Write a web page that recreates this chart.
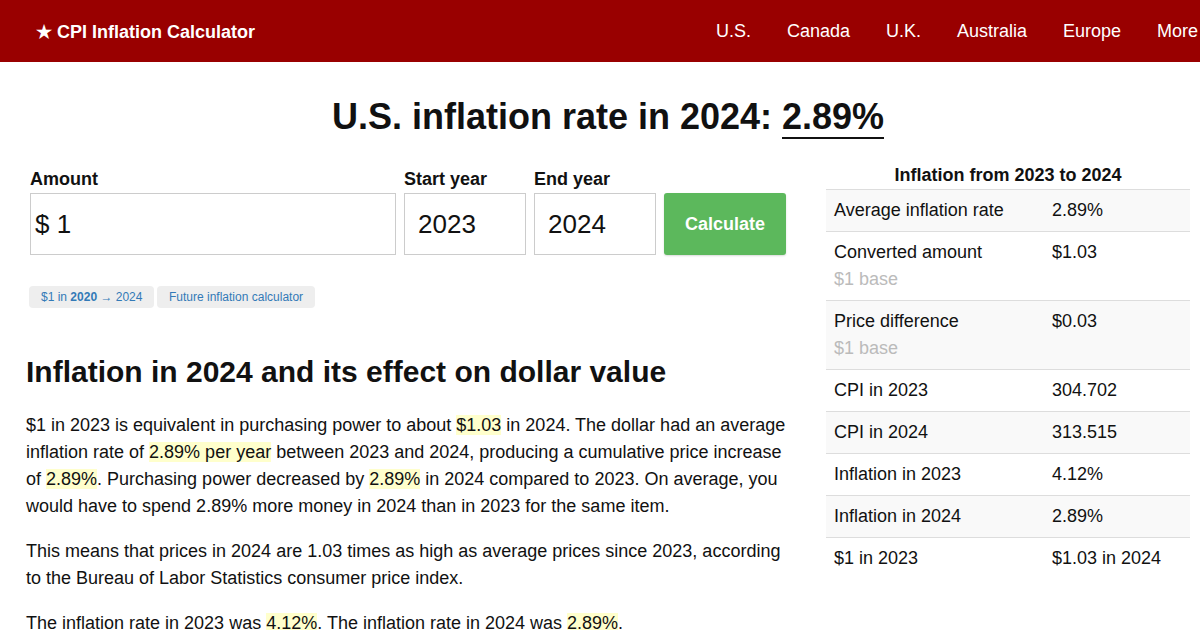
<!DOCTYPE html>
<html>
<head>
<meta charset="utf-8">
<script src="https://cdn.jsdelivr.net/npm/chart.js@4"></script>
<style>
  body { margin: 0; width: 1200px; height: 630px; overflow: hidden; background: #fff; font-family: "Liberation Sans", Arial, sans-serif; color: #111; }
  .topbar { position: absolute; left: 0; top: 0; width: 1200px; height: 62px; background: #990000; color: #fff; }
  .brand { position: absolute; left: 36px; top: 21px; font-size: 18px; font-weight: bold; }
  .nav a { position: absolute; top: 21px; font-size: 18px; color: #fff; text-decoration: none; white-space: nowrap; }
  h1 { position: absolute; left: 0; top: 96px; width: 1216px; margin: 0; text-align: center; font-size: 36px; font-weight: bold; }
  h1 span { border-bottom: 2px solid #111; }
  .lbl { position: absolute; top: 169px; font-size: 18px; font-weight: bold; }
  .box { position: absolute; top: 193px; height: 60px; border: 1px solid #ccc; font-size: 26px; line-height: 60px; box-sizing: content-box; }
  .btn { position: absolute; left: 664px; top: 193px; width: 122px; height: 62px; background: #5cb85c; border-radius: 3px; color: #fff; font-weight: bold; font-size: 18px; line-height: 62px; text-align: center; box-shadow: 0 1px 2px rgba(0,0,0,0.15); }
  .tag { position: absolute; top: 286px; height: 22px; line-height: 22px; background: #eee; border-radius: 4px; font-size: 12px; color: #337ab7; padding: 0 12px; white-space: nowrap; }
  h2 { position: absolute; left: 26px; top: 355px; margin: 0; font-size: 30px; font-weight: bold; }
  .txt { position: absolute; left: 26px; width: 768px; margin: 0; font-size: 18px; line-height: 27px; }
  mark { background: #ffffcc; color: inherit; }
  .side { position: absolute; left: 826px; top: 162px; width: 364px; }
  .side .cap { text-align: center; font-size: 18px; font-weight: bold; height: 27px; line-height: 26px; }
  table { border-collapse: collapse; width: 364px; font-size: 18px; }
  td { border-top: 1px solid #ddd; padding: 10px 8px; vertical-align: top; line-height: 21px; }
  td.v { width: 130px; }
  tr:nth-child(odd) td { background: #f9f9f9; }
  .note { color: #bbb; display: block; margin-top: 5px; line-height: 22px; }
</style>
</head>
<body>
<div class="topbar">
  <div class="brand">★ CPI Inflation Calculator</div>
  <div class="nav" id="nav"></div>
</div>
<h1>U.S. inflation rate in 2024: <span>2.89%</span></h1>

<div class="lbl" style="left:30px">Amount</div>
<div class="lbl" style="left:404px">Start year</div>
<div class="lbl" style="left:534px">End year</div>
<div class="box" style="left:30px;width:360px;padding-left:4px">$ 1</div>
<div class="box" style="left:404px;width:107px;padding-left:13px">2023</div>
<div class="box" style="left:534px;width:107px;padding-left:13px">2024</div>
<div class="btn">Calculate</div>

<div class="tag" style="left:29px">$1 in <b>2020</b> → 2024</div>
<div class="tag" style="left:157px">Future inflation calculator</div>

<h2>Inflation in 2024 and its effect on dollar value</h2>
<p class="txt" style="top:412px">$1 in 2023 is equivalent in purchasing power to about <mark>$1.03</mark> in 2024. The dollar had an average inflation rate of <mark>2.89% per year</mark> between 2023 and 2024, producing a cumulative price increase of <mark>2.89%</mark>. Purchasing power decreased by <mark>2.89%</mark> in 2024 compared to 2023. On average, you would have to spend 2.89% more money in 2024 than in 2023 for the same item.</p>
<p class="txt" style="top:538px">This means that prices in 2024 are 1.03 times as high as average prices since 2023, according to the Bureau of Labor Statistics consumer price index.</p>
<p class="txt" style="top:610px">The inflation rate in 2023 was <mark>4.12%</mark>. The inflation rate in 2024 was <mark>2.89%</mark>.</p>

<div class="side">
  <div class="cap">Inflation from 2023 to 2024</div>
  <table id="stats"></table>
</div>

<script>
  const navLinks = ['U.S.', 'Canada', 'U.K.', 'Australia', 'Europe', 'More'];
  const navX = [716, 787, 886, 957, 1063, 1157];

  const rowLabels = ['Average inflation rate', 'Converted amount', 'Price difference', 'CPI in 2023', 'CPI in 2024', 'Inflation in 2023', 'Inflation in 2024', '$1 in 2023'];
  const rowValues = ['2.89%', '$1.03', '$0.03', '304.702', '313.515', '4.12%', '2.89%', '$1.03 in 2024'];
  const rowNotes = ['', '$1 base', '$1 base', '', '', '', '', ''];

  document.getElementById('nav').innerHTML = navLinks.map((n, i) =>
    `<a style="left:${navX[i]}px">${n}</a>`
  ).join('');

  document.getElementById('stats').innerHTML = rowLabels.map((l, i) =>
    `<tr><td>${l}${rowNotes[i] ? `<span class="note">${rowNotes[i]}</span>` : ''}</td><td class="v">${rowValues[i]}</td></tr>`
  ).join('');
</script>
</body>
</html>
